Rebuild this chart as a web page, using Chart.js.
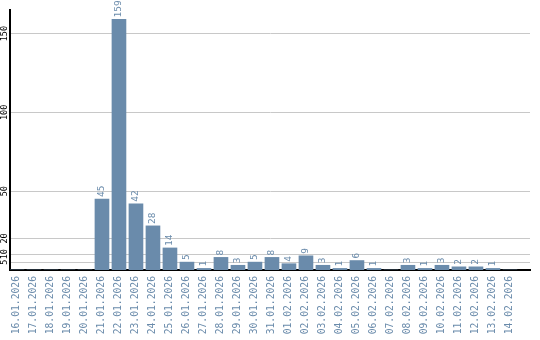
<!DOCTYPE html>
<html>
<head>
<meta charset="utf-8">
<script src="https://cdn.jsdelivr.net/npm/chart.js@4.4.1/dist/chart.umd.min.js"></script>
<style>
  html, body { margin: 0; padding: 0; background: #fff; }
  #wrap { width: 540px; height: 340px; }
</style>
</head>
<body>
<div id="wrap"><canvas id="visitsChart" width="540" height="340"></canvas></div>
<script>
const dates = ['16.01.2026', '17.01.2026', '18.01.2026', '19.01.2026', '20.01.2026',
    '21.01.2026', '22.01.2026', '23.01.2026', '24.01.2026', '25.01.2026',
    '26.01.2026', '27.01.2026', '28.01.2026', '29.01.2026', '30.01.2026',
    '31.01.2026', '01.02.2026', '02.02.2026', '03.02.2026', '04.02.2026',
    '05.02.2026', '06.02.2026', '07.02.2026', '08.02.2026', '09.02.2026',
    '10.02.2026', '11.02.2026', '12.02.2026', '13.02.2026', '14.02.2026'];
const counts = [0, 0, 0, 0, 0, 45, 159, 42, 28, 14, 5, 1, 8, 3, 5, 8, 4, 9, 3, 1, 6, 1, 0, 3, 1, 3, 2, 2, 1, 0];
const yTicks = [5, 10, 20, 50, 100, 150];

const blue = '#6a8bab';

// numbers above the bars, rotated like the date labels
const barValues = {
    id: 'barValues',
    afterDatasetsDraw(chart) {
        const ctx = chart.ctx;
        const meta = chart.getDatasetMeta(0);
        ctx.save();
        ctx.fillStyle = blue;
        ctx.font = '9.5px "DejaVu Sans Mono", monospace';
        ctx.textAlign = 'left';
        ctx.textBaseline = 'middle';
        meta.data.forEach((bar, i) => {
            if (!counts[i]) return;
            ctx.save();
            ctx.translate(bar.x, bar.y - 2);
            ctx.rotate(-Math.PI / 2);
            ctx.fillText(String(counts[i]), 0, 0);
            ctx.restore();
        });
        ctx.restore();
    }
};

const ctx = document.getElementById('visitsChart').getContext('2d');
const chart = new Chart(ctx, {
    type: 'bar',
    data: {
        datasets: [{
            data: counts.map((v, i) => ({ x: i, y: v })),
            backgroundColor: blue,
            borderWidth: 0,
            barThickness: 14
        }]
    },
    options: {
        responsive: false,
        animation: false,
        devicePixelRatio: 1,
        layout: { padding: { top: 10, right: 10, left: 0, bottom: 0 } },
        plugins: {
            legend: { display: false },
            tooltip: { enabled: false }
        },
        scales: {
            x: {
                type: 'linear',
                min: -0.41,
                max: 30.18,
                offset: false,
                grid: { display: false, drawTicks: false },
                border: { color: '#000', width: 2 },
                afterBuildTicks: (scale) => {
                    scale.ticks = dates.map((d, i) => ({ value: i }));
                },
                afterFit: (scale) => { scale.height = 70; },
                ticks: {
                    autoSkip: false,
                    maxRotation: 90,
                    minRotation: 90,
                    padding: 6,
                    color: blue,
                    font: { family: '"DejaVu Sans Mono", monospace', size: 9.7 },
                    callback: (v) => dates[v] || ''
                }
            },
            y: {
                min: 0,
                max: 165,
                grid: { color: '#c8c8c8', lineWidth: 1, drawTicks: false },
                border: { color: '#000', width: 2 },
                afterBuildTicks: (scale) => {
                    scale.ticks = yTicks.map(v => ({ value: v }));
                },
                afterFit: (scale) => { scale.width = 10; },
                ticks: {
                    autoSkip: false,
                    minRotation: 90,
                    maxRotation: 90,
                    crossAlign: 'center',
                    padding: -2.5,
                    color: '#000',
                    font: { family: '"DejaVu Sans Mono", monospace', size: 8.5 }
                }
            }
        }
    },
    plugins: [barValues]
});
</script>
</body>
</html>
